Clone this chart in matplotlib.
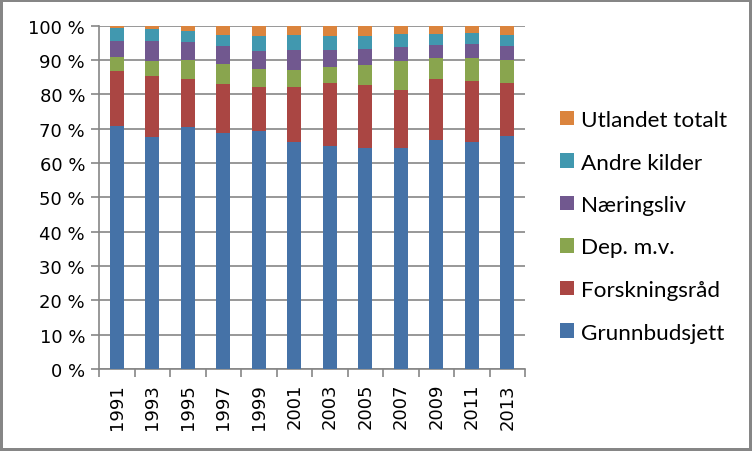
import numpy as np
import matplotlib.pyplot as plt

years = ['1991', '1993', '1995', '1997', '1999', '2001',
         '2003', '2005', '2007', '2009', '2011', '2013']

# andeler i prosent, lest av figuren
grunnbudsjett = [70.7, 67.6, 70.5, 68.7, 69.3, 66.1, 64.9, 64.3, 64.3, 66.7, 66.1, 67.8]
forskningsrad = [16.1, 17.7, 14.0, 14.3, 12.8, 16.0, 18.4, 18.4, 16.9, 17.8, 17.8, 15.5]
dep_mv = [4.1, 4.4, 5.5, 5.8, 5.3, 5.0, 4.7, 5.8, 8.5, 6.1, 6.7, 6.7]
naeringsliv = [4.6, 5.8, 5.2, 5.3, 5.2, 5.8, 4.9, 4.7, 4.1, 3.8, 4.1, 4.1]
andre_kilder = [3.8, 3.5, 3.2, 3.2, 4.4, 4.4, 4.1, 3.8, 3.8, 3.2, 3.2, 3.2]
utlandet = [0.7, 1.0, 1.6, 2.7, 3.0, 2.7, 3.0, 3.0, 2.4, 2.4, 2.1, 2.7]

series = [
    ('Grunnbudsjett', grunnbudsjett, '#4572A7'),
    ('Forskningsråd', forskningsrad, '#AA4643'),
    ('Dep. m.v.', dep_mv, '#89A54E'),
    ('Næringsliv', naeringsliv, '#71588F'),
    ('Andre kilder', andre_kilder, '#4198AF'),
    ('Utlandet totalt', utlandet, '#DB843D'),
]

W, H = 752, 452
fig = plt.figure(figsize=(W / 100, H / 100), dpi=100)
fig.patch.set_edgecolor('#868686')
fig.patch.set_linewidth(3)

ax = fig.add_axes([99 / W, (H - 370) / H, 426 / W, (370 - 26.5) / H])

x = np.arange(len(years))
bottom = np.zeros(len(years))
handles = []
for name, vals, col in series:
    b = ax.bar(x, vals, 0.4, bottom=bottom, color=col, label=name, zorder=3)
    bottom += np.array(vals)
    handles.append(b)

grey = '#868686'
ax.set_xlim(-0.5, len(years) - 0.5)
ax.set_ylim(0, 100)
ax.set_yticks(np.arange(0, 101, 10))
ax.set_yticklabels([f'{v} %' for v in range(0, 101, 10)], fontsize=13)
ax.set_xticks(x)
ax.set_xticklabels(years, rotation=90, fontsize=13)
ax.set_xticks(np.arange(-0.5, len(years), 1), minor=True)
ax.tick_params(axis='x', which='major', length=0, pad=10)
ax.tick_params(axis='x', which='minor', length=6, color=grey, width=1.2)
ax.tick_params(axis='y', length=6, color=grey, width=1.2, pad=4)
ax.yaxis.grid(True, color=grey, linewidth=1.2, zorder=0)
ax.set_axisbelow(True)
for s in ['top', 'right']:
    ax.spines[s].set_visible(False)
for s in ['left', 'bottom']:
    ax.spines[s].set_color(grey)
    ax.spines[s].set_linewidth(1.2)

leg = fig.legend(handles[::-1], [s[0] for s in series][::-1],
                 loc='upper left', bbox_to_anchor=(551 / W, 1 - 102 / H),
                 frameon=False, prop={'family': 'Lato', 'size': 16.2},
                 handlelength=0.62, handleheight=0.62, handletextpad=0.3,
                 labelspacing=1.0, borderaxespad=0)

fig.savefig('out.png', dpi=100)
